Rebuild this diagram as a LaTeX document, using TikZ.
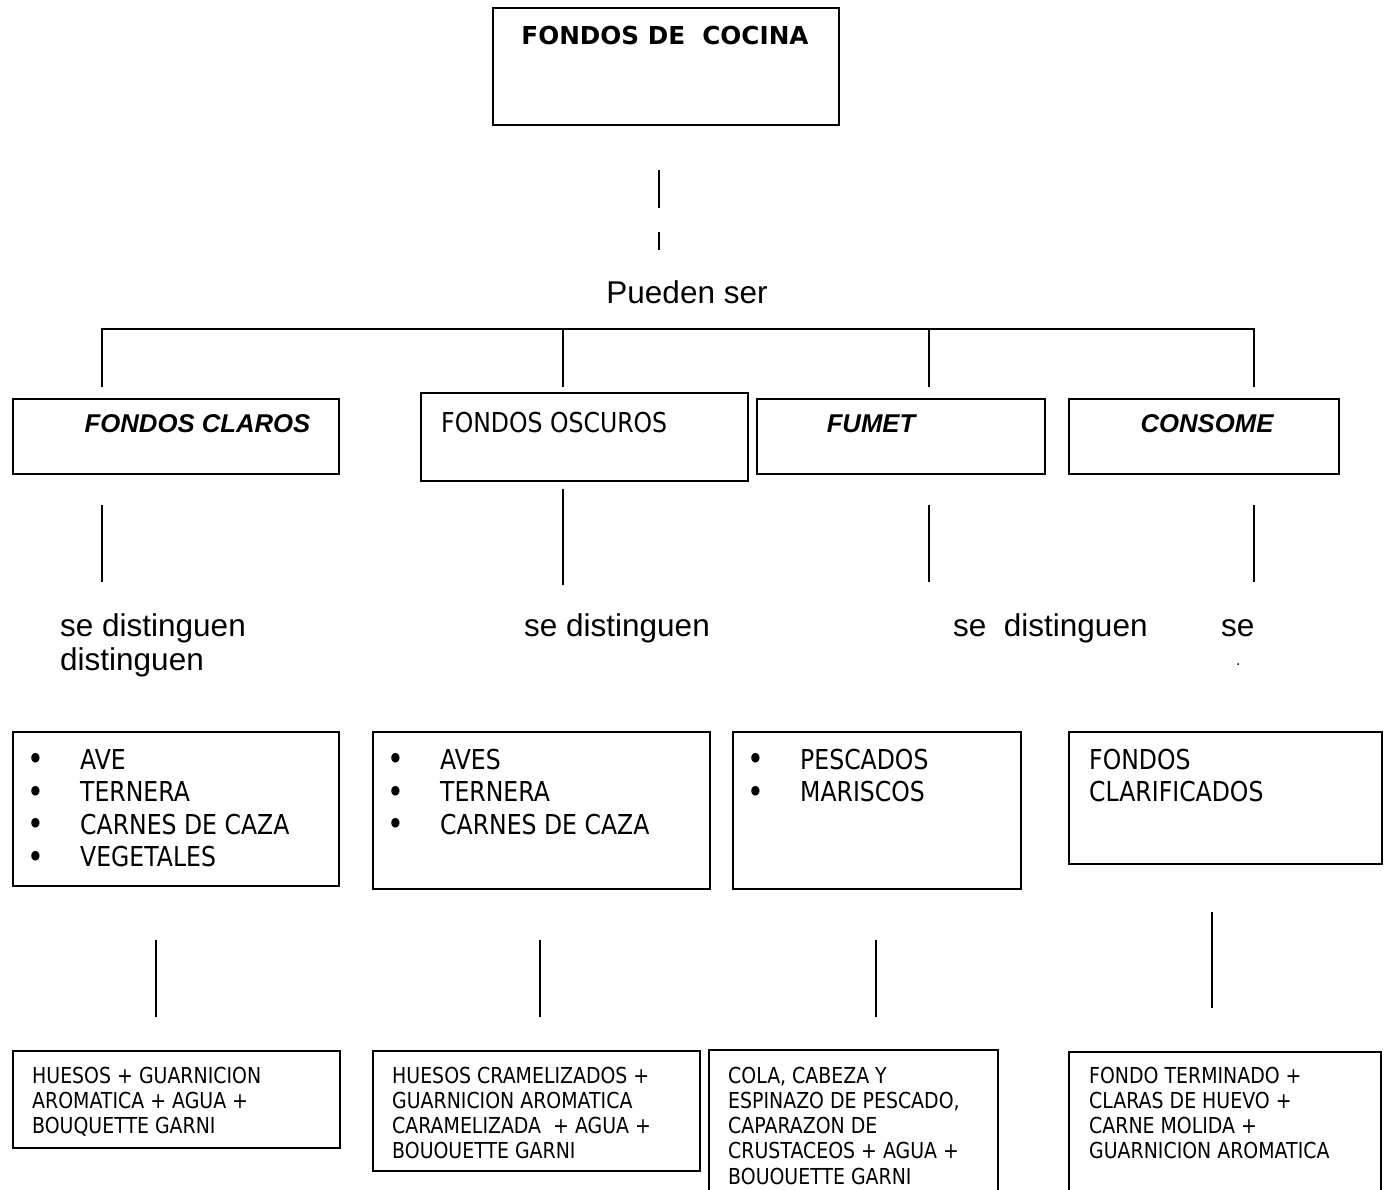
\documentclass[tikz,border=0pt]{standalone}
\usepackage{fontspec}
\setmainfont{Liberation Sans}
\newfontfamily\tahoma{DejaVu Sans}[FakeStretch=0.86]
\newfontfamily\titlefont{DejaVu Sans}
\usetikzlibrary{positioning}

\tikzset{
  box/.style={draw, line width=1.8pt, inner sep=0pt, anchor=north west},
  link/.style={line width=1.8pt},
  say/.style={inner sep=0pt, anchor=base west, font=\fontsize{31.5}{34}\selectfont},
  kind/.style={inner sep=0pt, anchor=base, font=\fontsize{25.7}{30}\selectfont\bfseries\itshape},
  item/.style={inner sep=0pt, anchor=base west, font=\tahoma\fontsize{27.4}{32.5}\selectfont},
  recipe/.style={inner sep=0pt, anchor=base west, font=\tahoma\fontsize{22}{25.3}\selectfont},
}
\newcommand{\rows}[1]{\begin{tabular}[t]{@{}l@{}}#1\end{tabular}}
\newcommand{\dotitem}{\makebox[53pt][l]{\raisebox{-1.5pt}{\fontsize{33}{33}\selectfont\textbullet}}}

\begin{document}
\begin{tikzpicture}[x=1pt, y=-1pt]
\useasboundingbox (0,0) rectangle (1388,1189);
\clip (0,0) rectangle (1388,1189);

% top box
\node[box, minimum width=346pt, minimum height=117pt] (fondos) at (492,7) {};
\node[inner sep=0pt, anchor=base, font=\titlefont\bfseries\fontsize{24.7}{30}\selectfont]
  (fondos-t) at (665,44) {FONDOS DE\ \ COCINA};

\coordinate (stem-a) at (659,170);
\coordinate (stem-b) at (659,208);
\coordinate (stem-c) at (659,232);
\coordinate (stem-d) at (659,250);
\draw[link] (stem-a) -- (stem-b) (stem-c) -- (stem-d);
\node[say, anchor=base] (pueden) at (687,303) {Pueden ser};

% bus
\foreach \x [count=\i] in {102,563,929,1254} {
  \coordinate (drop\i-a) at (\x,329);
  \coordinate (drop\i-b) at (\x,387);
}
\draw[link] (drop1-b) -- (drop1-a) -- (drop4-a) -- (drop4-b);
\draw[link] (drop2-a) -- (drop2-b) (drop3-a) -- (drop3-b);

% first level
\node[box, minimum width=326pt, minimum height=75pt] (claros) at (12,398) {};
\node[box, minimum width=327pt, minimum height=88pt] (oscuros) at (420,392) {};
\node[box, minimum width=288pt, minimum height=75pt] (fumet) at (756,398) {};
\node[box, minimum width=270pt, minimum height=75pt] (consome) at (1068,398) {};
\node[kind] (claros-t) at (197.5,432) {FONDOS CLAROS};
\node[item] (oscuros-t) at (441,432) {FONDOS OSCUROS};
\node[kind] (fumet-t) at (871,432) {FUMET};
\node[kind] (consome-t) at (1207,432) {CONSOME};

\foreach \x/\a/\b [count=\i] in {102/505/582, 563/489/585, 929/505/582, 1254/505/582} {
  \coordinate (mid\i-a) at (\x,\a);
  \coordinate (mid\i-b) at (\x,\b);
  \draw[link] (mid\i-a) -- (mid\i-b);
}

\node[say] (claros-s) at (60,636) {\rows{se distinguen\\distinguen}};
\node[say] (oscuros-s) at (524,636) {se distinguen};
\node[say] (fumet-s) at (953,636) {se\ \ distinguen};
\node[say] (consome-s) at (1221,636) {se};
\node[say, font=\fontsize{16}{18}\selectfont] (consome-dot) at (1236,665) {.};

% second level
\node[box, minimum width=326pt, minimum height=154pt] (claros-l) at (12,731) {};
\node[box, minimum width=337pt, minimum height=157pt] (oscuros-l) at (372,731) {};
\node[box, minimum width=288pt, minimum height=157pt] (fumet-l) at (732,731) {};
\node[box, minimum width=313pt, minimum height=132pt] (consome-l) at (1068,731) {};
\node[item] (claros-li) at (27,769)
  {\rows{\dotitem AVE\\ \dotitem TERNERA\\ \dotitem CARNES DE CAZA\\ \dotitem VEGETALES}};
\node[item] (oscuros-li) at (387,769)
  {\rows{\dotitem AVES\\ \dotitem TERNERA\\ \dotitem CARNES DE CAZA}};
\node[item] (fumet-li) at (747,769) {\rows{\dotitem PESCADOS\\ \dotitem MARISCOS}};
\node[item] (consome-li) at (1089,769) {\rows{FONDOS\\CLARIFICADOS}};

\foreach \x/\a/\b [count=\i] in {156/940/1017, 540/940/1017, 876/940/1017, 1212/912/1008} {
  \coordinate (low\i-a) at (\x,\a);
  \coordinate (low\i-b) at (\x,\b);
  \draw[link] (low\i-a) -- (low\i-b);
}

% third level
\node[box, minimum width=327pt, minimum height=97pt] (claros-r) at (12,1050) {};
\node[box, minimum width=327pt, minimum height=120pt] (oscuros-r) at (372,1050) {};
\node[box, minimum width=289pt, minimum height=200pt] (fumet-r) at (708,1049) {};
\node[box, minimum width=312pt, minimum height=200pt] (consome-r) at (1068,1051) {};
\node[recipe] (claros-rt) at (32,1083)
  {\rows{HUESOS + GUARNICION\\AROMATICA + AGUA +\\BOUQUETTE GARNI}};
\node[recipe] (oscuros-rt) at (392,1083)
  {\rows{HUESOS CRAMELIZADOS +\\GUARNICION AROMATICA\\CARAMELIZADA\ \ + AGUA +\\BOUOUETTE GARNI}};
\node[recipe] (fumet-rt) at (728,1083)
  {\rows{COLA, CABEZA Y\\ESPINAZO DE PESCADO,\\CAPARAZON DE\\CRUSTACEOS + AGUA +\\BOUOUETTE GARNI}};
\node[recipe] (consome-rt) at (1089,1083)
  {\rows{FONDO TERMINADO +\\CLARAS DE HUEVO +\\CARNE MOLIDA +\\GUARNICION AROMATICA}};
\end{tikzpicture}
\end{document}
